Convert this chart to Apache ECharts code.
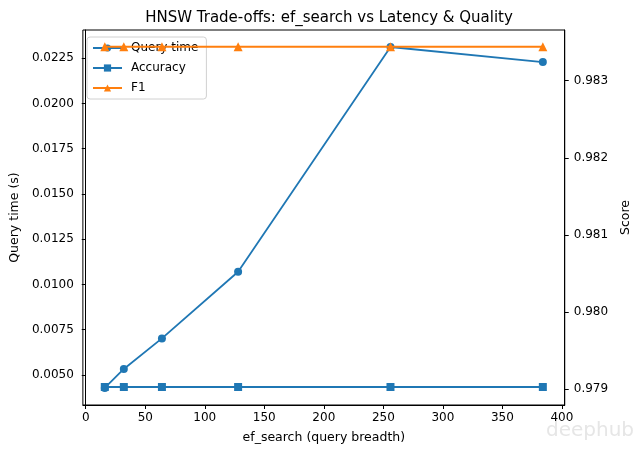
<!DOCTYPE html>
<html>
<head>
<meta charset="utf-8">
<script src="https://cdn.jsdelivr.net/npm/echarts@6/dist/echarts.min.js"></script>
<style>
  html, body { margin: 0; padding: 0; background: #fff; }
  #chart { width: 640px; height: 454px; }
</style>
</head>
<body>
<div id="chart"></div>
<script>
// ef_search values and measured metrics
const efSearch = [16, 32, 64, 128, 256, 384]
const queryTime = [0.00428, 0.00533, 0.00702, 0.0107, 0.02312, 0.02229]
const accuracy = [0.97903, 0.97903, 0.97903, 0.97903, 0.97903, 0.97903]
const f1 = [0.98344, 0.98344, 0.98344, 0.98344, 0.98344, 0.98344]

const xTicks = [0, 50, 100, 150, 200, 250, 300, 350, 400]
const leftTicks = [0.005, 0.0075, 0.01, 0.0125, 0.015, 0.0175, 0.02, 0.0225]
const rightTicks = [0.979, 0.98, 0.981, 0.982, 0.983]

const font = 'DejaVu Sans'
const blue = '#1f77b4'
const orange = '#ff7f0e'

const pairs = (ys) => efSearch.map((x, i) => [x, ys[i]])

const myChart = echarts.init(document.getElementById('chart'))

const lineCfg = {
  type: 'line',
  lineStyle: { width: 1.8 },
  emphasis: { disabled: true },
  animation: false
}

const axisCommon = {
  axisLine: { show: true, lineStyle: { color: '#000', width: 1 } },
  splitLine: { show: false },
  nameTextStyle: { fontFamily: font, fontSize: 12.5, color: '#000' }
}

const option = {
  backgroundColor: '#fff',
  title: {
    text: 'HNSW Trade-offs: ef_search vs Latency & Quality',
    left: 324,
    top: 6,
    textAlign: 'center',
    textStyle: { fontFamily: font, fontSize: 15, fontWeight: 'normal', color: '#000' }
  },
  grid: {
    left: 82,
    right: 73,
    top: 30,
    bottom: 49,
    show: true,
    borderColor: '#000',
    borderWidth: 1,
    backgroundColor: 'transparent'
  },
  legend: {
    orient: 'vertical',
    left: 87,
    top: 37,
    z: 0,
    padding: [5, 8, 5, 5],
    itemGap: 8,
    itemWidth: 29,
    itemHeight: 9,
    borderColor: '#d0d0d0',
    borderWidth: 1,
    borderRadius: 3,
    backgroundColor: 'rgba(255,255,255,0.8)',
    textStyle: { fontFamily: font, fontSize: 12, color: '#000', padding: [0, 0, 0, 4] },
    data: ['Query time', 'Accuracy', 'F1']
  },
  xAxis: {
    type: 'value',
    min: -2.4,
    max: 402.4,
    name: 'ef_search (query breadth)',
    nameLocation: 'middle',
    nameGap: 26,
    ...axisCommon,
    axisTick: { show: true, length: 4, customValues: xTicks, lineStyle: { color: '#000' } },
    axisLabel: { customValues: xTicks, margin: 7, fontFamily: font, fontSize: 12, color: '#000' }
  },
  yAxis: [
    {
      type: 'value',
      position: 'left',
      min: 0.00334,
      max: 0.02406,
      name: 'Query time (s)',
      nameLocation: 'middle',
      nameRotate: 90,
      nameGap: 60,
      ...axisCommon,
      axisTick: { show: true, length: 4, customValues: leftTicks, lineStyle: { color: '#000' } },
      axisLabel: {
        customValues: leftTicks,
        margin: 9,
        fontFamily: font,
        fontSize: 12,
        color: '#000',
        formatter: (v) => v.toFixed(4)
      }
    },
    {
      type: 'value',
      position: 'right',
      min: 0.978797,
      max: 0.983657,
      name: 'Score',
      nameLocation: 'middle',
      nameRotate: 90,
      nameGap: 52,
      ...axisCommon,
      axisTick: { show: true, length: 4, customValues: rightTicks, lineStyle: { color: '#000' } },
      axisLabel: {
        customValues: rightTicks,
        margin: 9,
        fontFamily: font,
        fontSize: 12,
        color: '#000',
        formatter: (v) => v.toFixed(3)
      }
    }
  ],
  graphic: [
    {
      type: 'text',
      right: 6,
      top: 421,
      style: { text: 'deephub', fontFamily: font, fontSize: 20, fill: '#e6e6e6' }
    }
  ],
  series: [
    {
      name: 'Query time',
      yAxisIndex: 0,
      symbol: 'circle',
      symbolSize: 8,
      color: blue,
      data: pairs(queryTime),
      z: 2,
      ...lineCfg
    },
    {
      name: 'Accuracy',
      yAxisIndex: 1,
      symbol: 'rect',
      symbolSize: 8,
      color: blue,
      data: pairs(accuracy),
      z: 3,
      ...lineCfg
    },
    {
      name: 'F1',
      yAxisIndex: 1,
      symbol: 'triangle',
      symbolSize: 9,
      color: orange,
      data: pairs(f1),
      z: 4,
      ...lineCfg
    }
  ]
}

myChart.setOption(option)
</script>
</body>
</html>
